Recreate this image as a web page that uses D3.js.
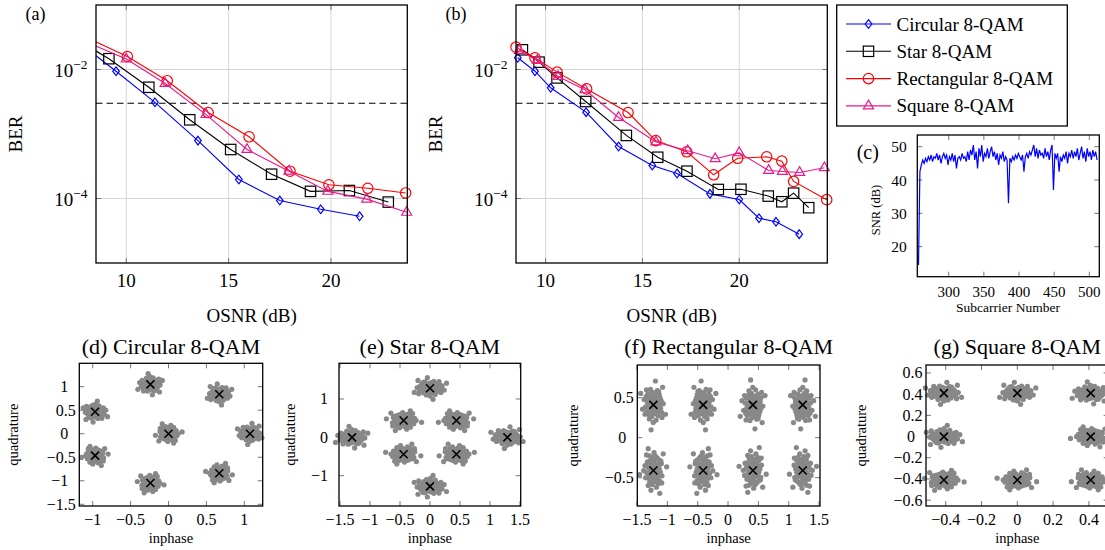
<!DOCTYPE html>
<html>
<head>
<meta charset="utf-8">
<script src="https://cdn.jsdelivr.net/npm/d3@7"></script>
<style>
  body { margin: 0; background: #fff; }
  svg { display: block; font-family: "Liberation Serif", "Times New Roman", serif; }
</style>
</head>
<body>
<svg id="fig" width="1105" height="550"></svg>
<script>
// ---------- BER vs OSNR, panel (a) ----------
const aCircOsnr = [7.5, 9.5, 11.4, 13.5, 15.5, 17.5, 19.5, 21.4];
const aCircBer  = [2.9e-2, 9.4e-3, 3.1e-3, 7.9e-4, 1.97e-4, 9.3e-5, 6.8e-5, 5.3e-5];
const aStarOsnr = [7.1, 9.15, 11.1, 13.1, 15.1, 17.1, 19.0, 20.9, 22.8];
const aStarBer  = [3.6e-2, 1.47e-2, 5.3e-3, 1.66e-3, 5.75e-4, 2.38e-4, 1.29e-4, 1.33e-4, 8.8e-5];
const aRectOsnr = [8.0, 10.05, 12.0, 14.0, 16.0, 18.0, 19.9, 21.8, 23.65];
const aRectBer  = [3.2e-2, 1.59e-2, 6.7e-3, 2.15e-3, 9.05e-4, 2.65e-4, 1.63e-4, 1.44e-4, 1.22e-4];
const aSqOsnr   = [8.0, 10.0, 11.9, 13.9, 15.9, 17.95, 19.85, 21.75, 23.7];
const aSqBer    = [2.7e-2, 1.45e-2, 6.06e-3, 2.0e-3, 5.75e-4, 2.65e-4, 1.29e-4, 9.77e-5, 6.1e-5];

// ---------- BER vs OSNR, panel (b) ----------
const bCircOsnr = [8.56, 9.45, 10.26, 12.09, 13.77, 15.51, 16.79, 18.49, 20.0, 21.02, 21.9, 23.1];
const bCircBer  = [1.52e-2, 9.4e-3, 5.2e-3, 2.18e-3, 6.4e-4, 3.25e-4, 2.44e-4, 1.18e-4, 9.65e-5, 4.95e-5, 4.35e-5, 2.8e-5];
const bStarOsnr = [8.8, 9.66, 10.59, 12.07, 14.17, 15.79, 17.3, 18.92, 20.09, 21.5, 22.2, 22.81, 23.59];
const bStarBer  = [2.02e-2, 1.3e-2, 7.4e-3, 3.19e-3, 9.5e-4, 4.36e-4, 2.65e-4, 1.38e-4, 1.39e-4, 1.09e-4, 8.9e-5, 1.21e-4, 7.2e-5];
const bRectOsnr = [8.47, 9.45, 10.59, 12.12, 14.26, 15.69, 17.29, 18.68, 19.92, 21.42, 22.2, 22.81, 24.52];
const bRectBer  = [2.22e-2, 1.52e-2, 9.1e-3, 5.0e-3, 2.15e-3, 7.9e-4, 5.3e-4, 2.33e-4, 4.2e-4, 4.43e-4, 3.8e-4, 1.84e-4, 9.6e-5];
const bSqOsnr   = [8.64, 9.57, 10.64, 12.03, 13.77, 15.7, 17.34, 18.76, 20.0, 21.52, 22.23, 23.12, 24.4];
const bSqBer    = [1.97e-2, 1.38e-2, 7.8e-3, 4.84e-3, 1.8e-3, 7.5e-4, 5.5e-4, 4.13e-4, 5.1e-4, 2.72e-4, 2.62e-4, 2.53e-4, 3.0e-4];

const fecThreshold = 3e-3;
const osnrTicks = [10, 15, 20];
const berTicks = [1e-2, 1e-4];

const legendLabels = ["Circular 8-QAM", "Star 8-QAM", "Rectangular 8-QAM", "Square 8-QAM"];
const seriesColors = ["#0000ff", "#000000", "#ff0000", "#e8198b"];
const seriesMarks  = ["diamond", "square", "circle", "triangle"];

// ---------- SNR per subcarrier, panel (c) ----------
const snrSubcarrier = d3.range(257, 512, 2);
const snrValues = [
  14.5, 42.5, 44.5, 46, 45, 46.5, 45.5, 47, 46, 47.5, 45.5, 47, 46.5, 48, 46, 47.5,
  45, 47, 48, 46.5, 47.5, 44.5, 47, 46, 48, 45.5, 47.5, 43.5, 46.5, 47, 46, 48,
  46.5, 47, 45.5, 48.5, 46, 49, 47.5, 50.5, 46, 48.5, 43.5, 49.5, 47, 50.5, 45.5, 48,
  47, 49.5, 46.5, 48.5, 50, 47, 48.5, 46, 48, 44.5, 47.5, 46.5, 48.5, 45.5, 47, 46,
  33, 46.5, 45.5, 47, 46, 47.5, 46.5, 48, 47, 46, 47.5, 42.5, 47, 48, 46.5, 48.5,
  47.5, 49, 50.5, 47, 49.5, 46.5, 49, 47.5, 48, 46.5, 49.5, 47, 48.5, 46, 49, 50.5,
  37, 48, 46.5, 48, 42.5, 47, 45.5, 47.5, 46.5, 48.5, 45, 48, 47, 49, 46.5, 48.5,
  47, 49.5, 46, 48, 50, 46.5, 48.5, 45.5, 49.5, 47, 48.5, 46, 49, 47, 48.5, 46
];
const snrXTicks = [300, 350, 400, 450, 500];
const snrYTicks = [20, 30, 40, 50];

// ---------- constellations, panels (d)-(g) ----------
const circCenters = [[1.075, 0], [0.670, 0.840], [-0.239, 1.048], [-0.969, 0.466],
                     [-0.969, -0.466], [-0.239, -1.048], [0.670, -0.840], [0, 0]];
const starCenters = [[1.29, 0], [0, 1.28], [-1.3, 0], [0, -1.28],
                     [0.44, 0.44], [-0.44, 0.44], [-0.44, -0.44], [0.44, -0.44]];
const rectCenters = [[-1.23, 0.41], [-0.41, 0.41], [0.41, 0.41], [1.23, 0.41],
                     [-1.23, -0.41], [-0.41, -0.41], [0.41, -0.41], [1.23, -0.41]];
const squareCenters = [[-0.41, 0.41], [0, 0.41], [0.41, 0.41], [-0.41, 0],
                       [0.41, 0], [-0.41, -0.41], [0, -0.41], [0.41, -0.41]];

// received-sample scatter around each point (in noise std units)
const cloudOffsets = [
  [0.12, -0.35], [-0.81, 0.44], [1.05, 0.23], [-0.27, -1.12], [0.58, 0.91], [-1.34, -0.18],
  [0.33, 0.07], [-0.06, 0.62], [1.42, -0.71], [-0.55, -0.49], [0.79, -0.22], [-0.98, 1.03],
  [0.21, -0.84], [-0.37, 0.18], [0.66, 1.37], [-1.61, 0.52], [0.04, -0.03], [1.18, 0.66],
  [-0.72, -0.95], [0.47, -1.46], [-0.15, 1.21], [0.93, -0.58], [-1.12, -0.64], [0.29, 0.45],
  [-0.44, -0.21], [1.71, 0.12], [-0.88, 0.09], [0.15, -0.52], [-0.23, 0.87], [0.61, 0.31],
  [-1.27, 0.81], [0.84, -1.04], [-0.51, 1.49], [0.38, -0.11], [-0.02, -1.68], [1.26, -0.33],
  [-0.67, 0.37], [0.09, 0.29], [-1.89, -0.41], [0.52, -0.77], [-0.31, -0.58], [1.02, 0.98],
  [-0.09, -0.27], [0.71, 0.04], [-0.62, 0.71], [2.1, -0.9], [-2.2, 1.1], [0.35, 2.3],
  [-0.4, -2.4], [1.6, 1.7], [0.45, 0.62], [-0.83, -0.12], [0.18, 1.02], [-0.25, -0.95],
  [1.1, -0.15], [-1.05, 0.28], [0.62, -0.4], [-0.48, 0.05], [0.0, 0.5], [0.25, -0.25],
  [1.35, 0.4], [-1.45, -0.9], [0.9, 1.3], [-0.7, -1.35], [1.5, -1.2], [-1.2, 1.45]
];

const fig = d3.select("#fig");
const tickGray = "#777";

/*******************/
/*  Marker shapes  */
/*******************/
const drawMark = (g, type, color, cx, cy) => {
  let el;
  if (type === "diamond") {
    el = g.append("path").attr("d", `M${cx},${cy - 4.3}L${cx + 3.3},${cy}L${cx},${cy + 4.3}L${cx - 3.3},${cy}Z`);
  } else if (type === "square") {
    el = g.append("rect").attr("x", cx - 5.2).attr("y", cy - 5.2).attr("width", 10.4).attr("height", 10.4);
  } else if (type === "circle") {
    el = g.append("circle").attr("cx", cx).attr("cy", cy).attr("r", 5.2);
  } else {
    const r = 5.8;
    el = g.append("path").attr("d", `M${cx},${cy - r}L${cx + 0.866 * r},${cy + 0.5 * r}L${cx - 0.866 * r},${cy + 0.5 * r}Z`);
  }
  el.attr("fill", "none").attr("stroke", color).attr("stroke-width", 1.2);
};

/**********************/
/*  BER panel (a)/(b) */
/**********************/
const berPanel = (id, box, dom, tag, series) => {
  const [x0, x1, y0, y1] = box;
  const x = d3.scaleLinear().domain(dom).range([x0, x1]);
  const y = d3.scaleLog().domain([1e-5, 1e-1]).range([y1, y0]);
  const g = fig.append("g");

  g.append("clipPath").attr("id", id).append("rect")
    .attr("x", x0).attr("y", y0).attr("width", x1 - x0).attr("height", y1 - y0);

  // grid and ticks
  osnrTicks.forEach(t => {
    g.append("line").attr("x1", x(t)).attr("x2", x(t)).attr("y1", y0).attr("y2", y1)
      .attr("stroke", "#cfcfcf").attr("stroke-width", 0.9);
    [[y0, y0 + 5], [y1 - 5, y1]].forEach(([a, b]) =>
      g.append("line").attr("x1", x(t)).attr("x2", x(t)).attr("y1", a).attr("y2", b)
        .attr("stroke", tickGray));
    g.append("text").attr("x", x(t)).attr("y", 286.5).attr("text-anchor", "middle")
      .attr("font-size", 19).text(t);
  });
  berTicks.forEach(t => {
    g.append("line").attr("x1", x0).attr("x2", x1).attr("y1", y(t)).attr("y2", y(t))
      .attr("stroke", "#cfcfcf").attr("stroke-width", 0.9);
    [[x0, x0 + 5], [x1 - 5, x1]].forEach(([a, b]) =>
      g.append("line").attr("x1", a).attr("x2", b).attr("y1", y(t)).attr("y2", y(t))
        .attr("stroke", tickGray));
    const txt = g.append("text").attr("x", x0 - 8.5).attr("y", y(t) + 7.5)
      .attr("text-anchor", "end").attr("font-size", 19).text("10");
    txt.append("tspan").attr("font-size", 13.5).attr("dy", -8.5)
      .text("\u2212" + Math.round(-Math.log10(t)));
  });

  // FEC threshold
  g.append("line").attr("x1", x0).attr("x2", x1).attr("y1", y(fecThreshold)).attr("y2", y(fecThreshold))
    .attr("stroke", "#000").attr("stroke-width", 1.2).attr("stroke-dasharray", "6.5,4");

  const line = d3.line().x(d => x(d[0])).y(d => y(d[1]));
  series.forEach((s, i) => {
    const pts = s.osnr.map((v, j) => [v, s.ber[j]]);
    g.append("path").attr("d", line(pts)).attr("fill", "none")
      .attr("stroke", seriesColors[i]).attr("stroke-width", 1.1)
      .attr("clip-path", `url(#${id})`);
    pts.filter(p => p[0] >= dom[0] - 0.05 && p[0] <= dom[1] + 0.05)
      .forEach(p => drawMark(g, seriesMarks[i], seriesColors[i], x(p[0]), y(p[1])));
  });

  g.append("rect").attr("x", x0).attr("y", y0).attr("width", x1 - x0).attr("height", y1 - y0)
    .attr("fill", "none").attr("stroke", "#000").attr("stroke-width", 1.3);

  g.append("text").attr("x", x0 - 70.5).attr("y", 20).attr("font-size", 18).text(tag);
  g.append("text").attr("transform", `translate(${x0 - 74.5},134) rotate(-90)`)
    .attr("text-anchor", "middle").attr("font-size", 19).text("BER");
  g.append("text").attr("x", (x0 + x1) / 2).attr("y", 322).attr("text-anchor", "middle")
    .attr("font-size", 19).text("OSNR (dB)");
};

berPanel("clipA", [96, 407.3, 5, 263], [8.52, 23.73], "(a)", [
  { osnr: aCircOsnr, ber: aCircBer }, { osnr: aStarOsnr, ber: aStarBer },
  { osnr: aRectOsnr, ber: aRectBer }, { osnr: aSqOsnr, ber: aSqBer }
]);
berPanel("clipB", [516, 827.3, 5, 263], [8.47, 24.55], "(b)", [
  { osnr: bCircOsnr, ber: bCircBer }, { osnr: bStarOsnr, ber: bStarBer },
  { osnr: bRectOsnr, ber: bRectBer }, { osnr: bSqOsnr, ber: bSqBer }
]);

/************/
/*  Legend  */
/************/
const leg = fig.append("g");
leg.append("rect").attr("x", 836.7).attr("y", 5).attr("width", 230.6).attr("height", 121)
  .attr("fill", "#fff").attr("stroke", "#000").attr("stroke-width", 1.3);
legendLabels.forEach((lab, i) => {
  const ly = 24 + i * 27.3;
  leg.append("line").attr("x1", 846).attr("x2", 891).attr("y1", ly).attr("y2", ly)
    .attr("stroke", seriesColors[i]).attr("stroke-width", 1.1);
  drawMark(leg, seriesMarks[i], seriesColors[i], 868.5, ly);
  leg.append("text").attr("x", 896.5).attr("y", ly + 6.5).attr("font-size", 19).text(lab);
});

/******************/
/*  SNR panel (c) */
/******************/
{
  const [x0, x1, y0, y1] = [917.3, 1099.3, 135, 276.7];
  const x = d3.scaleLinear().domain([255.3, 514.2]).range([x0, x1]);
  const y = d3.scaleLinear().domain([11, 53.5]).range([y1, y0]);
  const g = fig.append("g");
  snrXTicks.forEach(t => {
    [[y0, y0 + 5], [y1 - 5, y1]].forEach(([a, b]) =>
      g.append("line").attr("x1", x(t)).attr("x2", x(t)).attr("y1", a).attr("y2", b).attr("stroke", tickGray));
    g.append("text").attr("x", x(t)).attr("y", 296.5).attr("text-anchor", "middle")
      .attr("font-size", 15).text(t);
  });
  snrYTicks.forEach(t => {
    [[x0, x0 + 5], [x1 - 5, x1]].forEach(([a, b]) =>
      g.append("line").attr("x1", a).attr("x2", b).attr("y1", y(t)).attr("y2", y(t)).attr("stroke", tickGray));
    g.append("text").attr("x", x0 - 10.5).attr("y", y(t) + 5.5).attr("text-anchor", "end")
      .attr("font-size", 15.5).text(t);
  });
  const line = d3.line().x((d, i) => x(snrSubcarrier[i])).y(d => y(d));
  g.append("path").attr("d", line(snrValues)).attr("fill", "none")
    .attr("stroke", "#0000ff").attr("stroke-width", 1.2);
  g.append("rect").attr("x", x0).attr("y", y0).attr("width", x1 - x0).attr("height", y1 - y0)
    .attr("fill", "none").attr("stroke", "#000").attr("stroke-width", 1.3);
  g.append("text").attr("x", 856.7).attr("y", 159.3).attr("font-size", 20).text("(c)");
  g.append("text").attr("transform", "translate(880,210) rotate(-90)").attr("text-anchor", "middle")
    .attr("font-size", 12.5).text("SNR (dB)");
  g.append("text").attr("x", 1008).attr("y", 311.5).attr("text-anchor", "middle")
    .attr("font-size", 13.5).text("Subcarrier Number");
}

/*****************************/
/*  Constellation panels d-g */
/*****************************/
const fmt = v => (v < 0 ? "\u2212" : "") + Math.abs(v);

const constPanel = (box, xDom, yDom, xTicks, yTicks, title, centers, sig, qx) => {
  const [x0, x1, y0, y1] = box;
  const x = d3.scaleLinear().domain(xDom).range([x0, x1]);
  const y = d3.scaleLinear().domain(yDom).range([y1, y0]);
  const g = fig.append("g");

  xTicks.forEach(t => {
    [[y0, y0 + 5], [y1 - 5, y1]].forEach(([a, b]) =>
      g.append("line").attr("x1", x(t)).attr("x2", x(t)).attr("y1", a).attr("y2", b).attr("stroke", tickGray));
    g.append("text").attr("x", x(t)).attr("y", 525).attr("text-anchor", "middle")
      .attr("font-size", 16).text(fmt(t));
  });
  yTicks.forEach(t => {
    [[x0, x0 + 5], [x1 - 5, x1]].forEach(([a, b]) =>
      g.append("line").attr("x1", a).attr("x2", b).attr("y1", y(t)).attr("y2", y(t)).attr("stroke", tickGray));
    const dec = !Number.isInteger(t);
    g.append("text").attr("x", x0 - (dec ? 3.5 : 11)).attr("y", y(t) + 5.5).attr("text-anchor", "end")
      .attr("font-size", 16).text(fmt(t));
  });

  const dots = [];
  centers.forEach((c, k) => {
    const fx = k % 2 ? -1 : 1, fy = k % 4 < 2 ? 1 : -1, sw = k >= 4;
    cloudOffsets.forEach(([a, b]) => {
      const dx = (sw ? b : a) * fx, dy = (sw ? a : b) * fy;
      dots.push([c[0] + dx * sig[0], c[1] + dy * sig[1]]);
    });
  });
  g.selectAll(".dot").data(dots).join("circle").attr("class", "dot")
    .attr("cx", d => x(d[0])).attr("cy", d => y(d[1])).attr("r", 2.6).attr("fill", "#888");

  centers.forEach(c => {
    const cx = x(c[0]), cy = y(c[1]);
    g.append("path").attr("d", `M${cx - 4},${cy - 4}L${cx + 4},${cy + 4}M${cx - 4},${cy + 4}L${cx + 4},${cy - 4}`)
      .attr("stroke", "#000").attr("stroke-width", 1.6);
  });

  g.append("rect").attr("x", x0).attr("y", y0).attr("width", x1 - x0).attr("height", y1 - y0)
    .attr("fill", "none").attr("stroke", "#000").attr("stroke-width", 1.3);

  g.append("text").attr("x", (x0 + x1) / 2).attr("y", 354).attr("text-anchor", "middle")
    .attr("font-size", 22).text(title);
  g.append("text").attr("x", (x0 + x1) / 2).attr("y", 543).attr("text-anchor", "middle")
    .attr("font-size", 14.5).text("inphase");
  g.append("text").attr("transform", `translate(${qx},${(y0 + y1) / 2}) rotate(-90)`)
    .attr("text-anchor", "middle").attr("font-size", 14.5).text("quadrature");
};

constPanel([79.3, 262.7, 363.3, 506], [-1.177, 1.243], [-1.536, 1.497],
  [-1, -0.5, 0, 0.5, 1], [1, 0.5, 0, -0.5, -1, -1.5], "(d) Circular 8-QAM", circCenters, [0.075, 0.095], 18);
constPanel([339, 520.7, 363.3, 506], [-1.517, 1.512], [-1.79, 1.93],
  [-1.5, -1, -0.5, 0, 0.5, 1, 1.5], [1, 0, -1], "(e) Star 8-QAM", starCenters, [0.125, 0.12], 295);
constPanel([637.3, 820, 365, 506], [-1.495, 1.515], [-0.854, 0.909],
  [-1.5, -1, -0.5, 0, 0.5, 1, 1.5], [0.5, 0, -0.5], "(f) Rectangular 8-QAM", rectCenters, [0.095, 0.13], 578);
constPanel([926, 1108.6, 365, 506], [-0.51, 0.51], [-0.655, 0.675],
  [-0.4, -0.2, 0, 0.2, 0.4], [0.6, 0.4, 0.2, 0, -0.2, -0.4, -0.6], "(g) Square 8-QAM", squareCenters, [0.047, 0.044], 866);
</script>
</body>
</html>
